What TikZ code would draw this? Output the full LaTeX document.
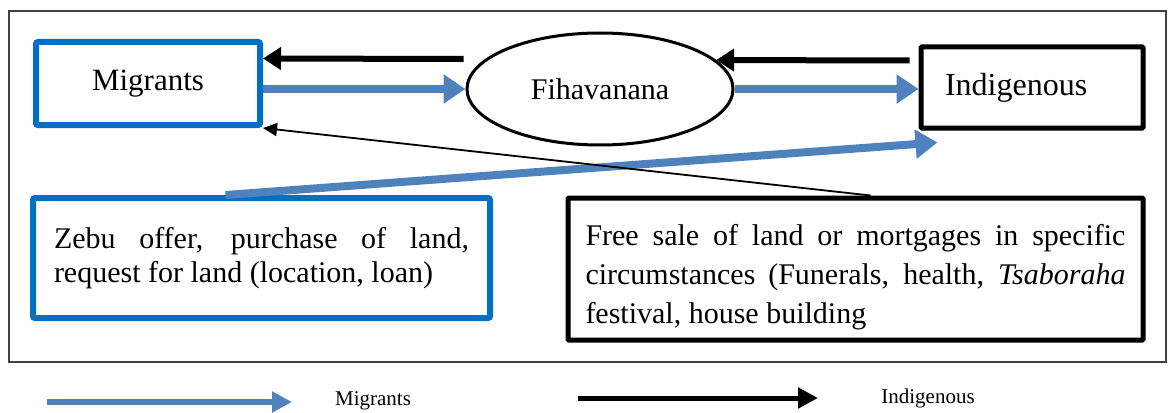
\documentclass[tikz,border=0pt]{standalone}
\usepackage{fontspec}
\setmainfont{Liberation Serif}
\usetikzlibrary{shapes.geometric,arrows.meta}
\definecolor{boxblue}{HTML}{0070C0}
\definecolor{arrblue}{HTML}{4F81BD}
\tikzset{
  bluebox/.style={draw=boxblue, line width=6pt, rounded corners=2pt, font=\fontsize{30}{34}\selectfont},
  blackbox/.style={draw=black, line width=5pt, rounded corners=1pt, font=\fontsize{30}{34}\selectfont},
  nobreak/.style={execute at begin node={\hyphenpenalty=10000 \tolerance=10000 \relax}},
  bluearr/.style={draw=arrblue, line width=8pt, -{Triangle[length=22pt,width=28pt]}},
  blkarr/.style={draw=black, line width=6pt, -{Triangle[length=18pt,width=22pt]}},
  thinarr/.style={draw=black, line width=1.8pt, -{Triangle[length=14pt,width=13pt]}},
  legend/.style={font=\fontsize{21}{24}\selectfont}
}
\begin{document}
\begin{tikzpicture}[x=1pt, y=-1pt]
  \useasboundingbox (0,0) rectangle (1169,412);
  % Frame
  \draw[line width=1.5pt, black!75] (9,11) rectangle (1166,362);

  % Main nodes
  \node[bluebox, minimum width=224pt, minimum height=83pt, font=\fontsize{31}{34}\selectfont] (mig) at (148,83.5) {Migrants};
  \node[ellipse, draw, line width=3pt, minimum width=266pt, minimum height=112pt, font=\fontsize{30}{34}\selectfont] (fih) at (600,89) {Fihavanana};
  \node[blackbox, text width=174pt, inner xsep=24pt, minimum height=81pt, align=left, font=\fontsize{32}{36}\selectfont] (ind) at (1032,87.5) {Indigenous};

  % Exchange boxes
  \node[bluebox, nobreak, text width=415pt, inner xsep=21pt, minimum height=120pt, align=justify] (zebu) at (261.5,258) {Zebu offer, purchase of land, request for land (location, loan)};
  \node[blackbox, nobreak, text width=540pt, inner xsep=17.5pt, minimum height=142pt, align=justify, font=\fontsize{30}{39}\selectfont] (free) at (855.5,269) {\rule{0pt}{37pt}Free sale of land or mortgages in specific circumstances (Funerals, health, \textit{Tsaboraha} festival, house building};

  % Arrows
  \draw[blkarr] ([xshift=-2pt,yshift=30pt]fih.west) -- ([yshift=25pt]mig.east);
  \draw[bluearr] (mig.east |- fih.west) -- (fih.west);
  \draw[blkarr] ([xshift=-9pt,yshift=27pt]ind.west) -- (fih.14);
  \draw[bluearr] (fih.east) -- (fih.east -| ind.west);
  \draw[bluearr] ([xshift=-36pt]zebu.north) -- ([xshift=19pt,yshift=-12pt]ind.south west);
  \draw[thinarr] ([xshift=15pt]free.north) -- (mig.south east);

  % Legend
  \coordinate (lb0) at (47,402);
  \coordinate (lb1) at (292,402);
  \draw[draw=arrblue, line width=6pt, -{Triangle[length=20pt,width=20pt]}] (lb0) -- (lb1);
  \node[legend] (lbt) at (373,401) {Migrants};
  \coordinate (lk0) at (578,398);
  \coordinate (lk1) at (818,398);
  \draw[draw=black, line width=5pt, -{Triangle[length=20pt,width=20pt]}] (lk0) -- (lk1);
  \node[legend] (lkt) at (928,398) {Indigenous};
\end{tikzpicture}
\end{document}
